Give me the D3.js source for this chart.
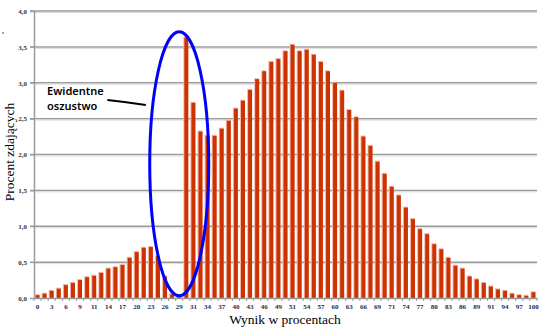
<!DOCTYPE html>
<html><head><meta charset="utf-8">
<script src="https://cdn.jsdelivr.net/npm/d3@7"></script>
<style>body{margin:0;background:#fff;} svg{display:block;}</style>
</head><body>
<svg id="c" width="543" height="336"></svg>
<script>
// Number of points scored (0..70) -> percent of examinees
const categories = d3.range(0, 71);
const values = [0.04,0.06,0.10,0.13,0.18,0.21,0.25,0.29,0.31,0.35,
  0.41,0.43,0.46,0.56,0.64,0.70,0.71,0.58,0.30,0.05,
  0.02,3.63,2.72,2.32,2.26,2.26,2.36,2.47,2.64,2.75,
  2.90,3.05,3.16,3.29,3.33,3.44,3.53,3.44,3.46,3.39,
  3.29,3.16,3.00,2.89,2.62,2.52,2.25,2.12,1.90,1.73,
  1.55,1.43,1.26,1.10,0.96,0.89,0.75,0.68,0.56,0.45,
  0.41,0.30,0.26,0.21,0.16,0.12,0.10,0.06,0.04,0.03,0.08];
const xTickLabels = ["0","3","6","9","11","14","17","20","23","26","29","31","34","37","40","43","46","49","51","54","57","60","63","66","69","71","74","77","80","83","86","89","91","94","97","100"];
const yTicks = [0,0.5,1,1.5,2,2.5,3,3.5,4];
const xTitle = "Wynik w procentach";
const yTitle = "Procent zdających";
const noteLines = ["Ewidentne","oszustwo"];

const svg = d3.select("#c");
const L = 34, R = 537, T = 11, B = 298;
const x = d3.scaleBand().domain(categories).range([L, R]).paddingInner(0.44).paddingOuter(0.22);
const y = d3.scaleLinear().domain([0, 4]).range([B, T]);
const fmt = v => d3.format(".1f")(v).replace(".", ",");

// gridlines
svg.append("g").selectAll("line").data(yTicks.filter(d => d > 0)).join("line")
  .attr("x1", L - 4).attr("x2", R).attr("y1", d => y(d)).attr("y2", d => y(d))
  .attr("stroke", "#9a9a9a").attr("stroke-width", 1.5);
svg.append("g").selectAll("line").data(yTicks.filter(d => d > 0)).join("line")
  .attr("x1", L).attr("x2", R).attr("y1", d => y(d) + 1.5).attr("y2", d => y(d) + 1.5)
  .attr("stroke", "#dcdcdc").attr("stroke-width", 1);

// y axis
const ya = svg.append("g").attr("transform", `translate(${L},0)`)
  .call(d3.axisLeft(y).tickValues(yTicks).tickFormat(fmt).tickSize(4).tickPadding(3));
ya.select(".domain").attr("stroke", "#9a9a9a").attr("stroke-width", 1.5);
ya.selectAll(".tick line").attr("stroke", "#9a9a9a");
ya.selectAll("text").attr("font-family", "Liberation Serif").attr("font-size", 7).attr("fill", "#333").attr("font-weight", "bold");

// bars: pink halo then red bar
svg.append("g").selectAll("rect").data(values).join("rect")
  .attr("x", (d, i) => x(categories[i]) - 1).attr("width", x.bandwidth() + 1)
  .attr("y", d => y(d) - 1).attr("height", d => B - y(d) + 1)
  .attr("fill", "#f2b8ac");
svg.append("g").selectAll("rect").data(values).join("rect")
  .attr("x", (d, i) => x(categories[i])).attr("width", x.bandwidth())
  .attr("y", d => y(d)).attr("height", d => B - y(d))
  .attr("fill", "#cc3300");

// x axis
const xa = svg.append("g").attr("transform", `translate(0,${B})`)
  .call(d3.axisBottom(x).tickValues(categories.filter(c => c % 2 === 0))
    .tickFormat(c => xTickLabels[c / 2]).tickSize(0).tickPadding(6));
xa.select(".domain").attr("stroke", "#9a9a9a").attr("stroke-width", 1.5);
xa.selectAll("text").attr("font-family", "Liberation Serif").attr("font-size", 7).attr("fill", "#1a2a50").attr("font-weight", "bold");
// band-boundary tick marks
svg.append("g").selectAll("line").data(categories.concat([71])).join("line")
  .attr("x1", c => c < 71 ? x(c) - x.step() * x.paddingInner() / 2 : R)
  .attr("x2", c => c < 71 ? x(c) - x.step() * x.paddingInner() / 2 : R)
  .attr("y1", B).attr("y2", B + 3).attr("stroke", "#9a9a9a");

// titles
svg.append("text").attr("x", 285).attr("y", 324).attr("text-anchor", "middle")
  .attr("font-family", "Liberation Serif").attr("font-size", 13.5).attr("fill", "#000").text(xTitle);
svg.append("text").attr("transform", `translate(14,152) rotate(-90)`).attr("text-anchor", "middle")
  .attr("font-family", "Liberation Serif").attr("font-size", 13.5).attr("fill", "#000").text(yTitle);

// annotation
const cx = x(20) + x.bandwidth() / 2;
svg.append("ellipse").attr("cx", cx).attr("cy", (y(3.71) + y(0.03)) / 2)
  .attr("rx", 29.5).attr("ry", (y(0.03) - y(3.71)) / 2)
  .attr("fill", "none").attr("stroke", "#0000ff").attr("stroke-width", 3);
svg.append("path").attr("d", `M${x(10) + 1},${y(2.76)} Q${x(13)},${y(2.73)} ${x(15) + 4},${y(2.69)}`)
  .attr("fill", "none").attr("stroke", "#000").attr("stroke-width", 2);
svg.append("text").attr("x", 47).attr("y", 95).attr("font-family", "Noto Sans").attr("font-size", 11)
  .attr("font-weight", 600).attr("fill", "#000")
  .selectAll("tspan").data(noteLines).join("tspan").attr("x", 47).attr("dy", (d, i) => i ? 15 : 0).text(d => d);
svg.append("circle").attr("cx", 3).attr("cy", 33).attr("r", 0.8).attr("fill", "#333");
</script>
</body></html>
